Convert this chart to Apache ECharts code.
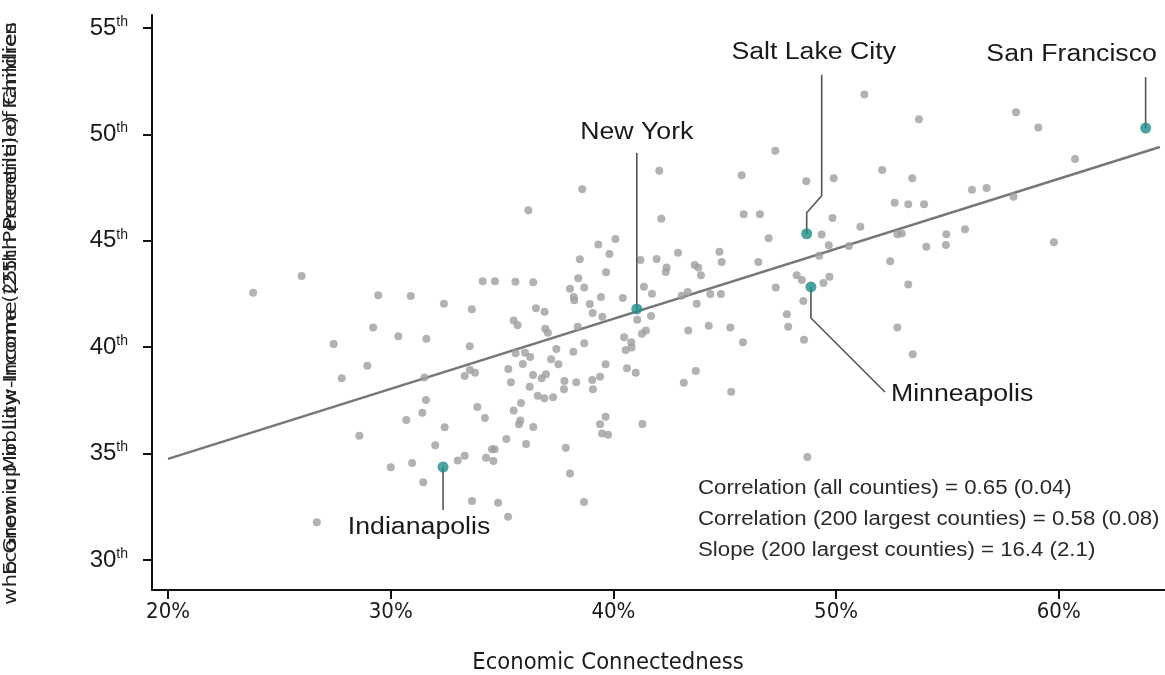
<!DOCTYPE html>
<html>
<head>
<meta charset="utf-8">
<script src="https://cdn.jsdelivr.net/npm/echarts@6/dist/echarts.min.js"></script>
<style>
  html, body { margin: 0; padding: 0; background: #fff; }
  #chart { width: 1165px; height: 675px; }
</style>
</head>
<body>
<div id="chart"></div>
<script>
// tick values
const xTicks = [20, 30, 40, 50, 60];
const yTicks = [30, 35, 40, 45, 50, 55];

// counties (economic connectedness %, income percentile)
const countyX = [
  26.00, 23.82, 29.44, 30.90, 32.39, 33.64, 34.13, 34.68, 29.21, 30.34,
  31.60, 33.55, 27.44, 28.95, 27.80, 31.51, 33.32, 33.79, 33.56, 31.58,
  31.42, 30.70, 33.89, 34.23, 32.42, 28.59, 32.00, 34.55, 34.67, 34.28,
  34.61, 33.32, 33.01, 30.96, 30.00, 31.46, 33.65, 34.82, 26.68, 42.06,
  38.60, 36.18, 42.15, 45.76, 48.66, 47.27, 45.85, 46.58, 46.97, 40.09,
  39.32, 38.49, 39.82, 39.67, 38.42, 41.21, 41.94, 42.90, 42.39, 42.35,
  43.65, 43.81, 43.93, 44.76, 44.86, 46.51, 35.60, 36.40, 38.05, 38.22,
  38.24, 38.69, 39.44, 38.94, 40.42, 41.37, 41.73, 39.07, 39.50, 36.52,
  36.91, 35.52, 35.70, 36.94, 37.06, 38.40, 41.07, 41.69, 43.07, 43.34,
  43.74, 44.35, 44.83, 47.29, 48.23, 48.46, 48.53, 47.79, 47.85, 48.56,
  45.82, 45.25, 44.28, 43.36, 41.46, 41.28, 40.48, 40.80, 40.82, 40.55,
  38.69, 38.20, 37.44, 35.61, 36.03, 36.26, 37.20, 37.53, 35.93, 35.28,
  39.65, 40.61, 41.00, 43.70, 43.16, 45.29, 36.39, 36.78, 36.97, 35.40,
  36.24, 37.80, 37.78, 38.33, 39.05, 39.40, 39.08, 36.60, 36.90, 37.29,
  35.85, 35.52, 35.82, 35.76, 36.40, 39.65, 39.40, 39.49, 39.76, 41.30,
  35.19, 36.08, 37.86, 38.05, 48.71, 35.27, 38.68, 51.27, 53.72, 58.08,
  59.08, 60.73, 49.89, 52.07, 53.42, 52.63, 53.24, 53.95, 56.10, 56.76,
  49.84, 51.09, 49.35, 49.67, 50.57, 49.24, 52.75, 52.95, 54.95, 54.93,
  54.05, 55.79, 57.97, 59.78, 52.43, 53.24, 49.43, 49.70, 52.75, 53.44
];
const countyY = [
  43.35, 42.56, 42.44, 42.41, 42.04, 41.78, 43.10, 43.10, 40.92, 40.51,
  40.40, 40.04, 40.15, 39.13, 38.54, 38.57, 38.65, 38.80, 38.93, 37.52,
  36.92, 36.58, 37.19, 36.67, 36.24, 35.84, 35.39, 35.20, 35.20, 34.81,
  34.65, 34.90, 34.67, 34.56, 34.36, 33.65, 32.77, 32.69, 31.77, 48.29,
  47.42, 46.43, 46.04, 48.08, 47.80, 49.23, 46.25, 46.25, 45.12, 45.08,
  44.82, 44.13, 44.38, 43.52, 43.24, 44.10, 44.14, 44.44, 43.75, 43.53,
  43.86, 43.75, 43.38, 44.49, 44.00, 44.00, 43.08, 43.05, 42.75, 42.36,
  42.20, 42.81, 42.36, 42.03, 42.31, 42.84, 42.51, 41.61, 41.43, 41.83,
  41.67, 41.26, 41.03, 40.87, 40.68, 40.96, 41.29, 41.47, 42.42, 42.59,
  42.04, 42.50, 42.50, 42.81, 43.38, 43.16, 42.17, 41.55, 40.96, 40.35,
  40.23, 40.92, 41.01, 40.79, 40.79, 40.63, 40.47, 40.23, 39.98, 39.87,
  40.18, 39.79, 39.92, 39.71, 39.74, 39.54, 39.43, 39.20, 39.21, 38.98,
  39.20, 39.01, 38.80, 38.88, 38.33, 37.91, 38.69, 38.54, 38.73, 38.35,
  38.14, 38.41, 38.02, 38.35, 38.46, 38.61, 38.02, 37.72, 37.60, 37.65,
  37.38, 37.02, 36.55, 36.38, 36.25, 36.73, 36.38, 35.95, 35.89, 36.39,
  35.69, 35.45, 35.28, 34.07, 34.84, 32.03, 32.73, 51.88, 50.71, 51.04,
  50.32, 48.84, 47.94, 48.33, 47.94, 46.79, 46.72, 46.72, 47.40, 47.48,
  46.07, 45.66, 45.29, 44.79, 44.76, 44.30, 45.31, 45.34, 45.31, 44.80,
  44.72, 45.54, 47.07, 44.93, 44.04, 42.94, 43.02, 43.31, 40.92, 39.67
];

// highlighted cities
const cityNames = ['Indianapolis', 'New York', 'Salt Lake City', 'Minneapolis', 'San Francisco'];
const cityX = [32.35, 41.05, 48.68, 48.87, 63.90];
const cityY = [34.37, 41.80, 45.33, 42.83, 50.30];

// fitted line ends
const fitX = [20, 64.54];
const fitY = [34.75, 49.41];

const statLines = [
  'Correlation (all counties) = 0.65 (0.04)',
  'Correlation (200 largest counties) = 0.58 (0.08)',
  'Slope (200 largest counties) = 16.4 (2.1)'
];
const xTitle = 'Economic Connectedness';
const yTitleA = 'Economic Mobility: Income (25th Percentile) of Children';
const yTitleB = 'who Grew up in Low-Income (25th Percentile) Families';

// leader line shapes, pixel offsets from each city point
const leaders = [
  { path: [[0, 0], [0, 43]], label: [-24, 61], align: 'center' },
  { path: [[0, 0], [0, -156]], label: [0, -176], align: 'center' },
  { path: [[0, 0], [0, -21], [15, -38], [15, -159]], label: [7, -181], align: 'center' },
  { path: [[0, 0], [0, 31], [74, 105]], label: [80, 108], align: 'left' },
  { path: [[0, 0], [0, -51]], label: [-74, -73], align: 'center' }
];

const chart = echarts.init(document.getElementById('chart'));
const axisColor = '#111';

chart.setOption({
  animation: false,
  grid: { left: 152, right: 0, top: 15, bottom: 85, outerBoundsMode: 'none' },
  xAxis: {
    type: 'value', min: 19.28, max: 64.77,
    splitLine: { show: false },
    axisLine: { lineStyle: { color: axisColor, width: 2 } },
    axisTick: { customValues: xTicks, length: 9, lineStyle: { color: axisColor, width: 2 } },
    axisLabel: {
      customValues: xTicks, margin: 11, formatter: v => v + '%',
      fontFamily: 'DejaVu Sans Condensed', fontSize: 22, color: '#1a1a1a'
    }
  },
  yAxis: {
    type: 'value', min: 28.59, max: 55.61,
    splitLine: { show: false },
    axisLine: { show: true, lineStyle: { color: axisColor, width: 2 } },
    axisTick: { show: true, customValues: yTicks, length: 9, lineStyle: { color: axisColor, width: 2 } },
    axisLabel: {
      customValues: yTicks, margin: 24,
      formatter: v => '{n|' + v + '}{s|th}',
      rich: {
        n: { fontFamily: 'Liberation Sans', fontSize: 24, lineHeight: 26, color: '#1a1a1a' },
        s: { fontFamily: 'Liberation Sans', fontSize: 14, lineHeight: 14, verticalAlign: 'top', color: '#1a1a1a' }
      }
    }
  },
  series: [
    {
      type: 'line', data: fitX.map((x, i) => [x, fitY[i]]),
      symbol: 'none', z: 1,
      lineStyle: { color: '#777', width: 2.5 }
    },
    {
      type: 'scatter', data: countyX.map((x, i) => [x, countyY[i]]),
      symbolSize: 8, z: 2,
      itemStyle: { color: '#9f9f9f' }
    },
    {
      type: 'scatter', data: cityX.map((x, i) => [x, cityY[i]]),
      symbolSize: 11, z: 4,
      itemStyle: { color: '#1c8c88' }
    }
  ]
});

// text width helper for stretching the y title
const ctx = document.createElement('canvas').getContext('2d');
function textWidth(t, font) { ctx.font = font; return ctx.measureText(t).width; }

const yFont = '18px "DejaVu Sans Condensed"';
const graphics = [];

cityNames.forEach((name, i) => {
  const p = chart.convertToPixel({ gridIndex: 0 }, [cityX[i], cityY[i]]);
  const l = leaders[i];
  graphics.push({
    type: 'polyline', z: 3,
    shape: { points: l.path.map(d => [p[0] + d[0], p[1] + d[1]]) },
    style: { stroke: '#555', lineWidth: 1.6, fill: null }
  });
  graphics.push({
    type: 'text', z: 5, x: p[0] + l.label[0], y: p[1] + l.label[1], scaleX: 1.16,
    style: {
      text: name, font: '23px "Liberation Sans"', fill: '#1a1a1a',
      align: l.align, verticalAlign: 'middle'
    }
  });
});

statLines.forEach((t, i) => {
  graphics.push({
    type: 'text', z: 5, x: 698, y: 489 + i * 31, scaleX: 1.14,
    style: { text: t, font: '19.5px "Liberation Sans"', fill: '#2a2a2a', align: 'left', verticalAlign: 'middle' }
  });
});

graphics.push({
  type: 'text', z: 5, x: 608, y: 663,
  style: { text: xTitle, font: '23.5px "DejaVu Sans Condensed"', fill: '#1a1a1a', align: 'center', verticalAlign: 'middle' }
});

[[yTitleA, 575, 553], [yTitleB, 605, 583]].forEach(([t, start, len]) => {
  graphics.push({
    type: 'text', z: 5, x: 11, y: start, rotation: Math.PI / 2,
    scaleX: len / textWidth(t, yFont),
    style: { text: t, font: yFont, fill: '#222', align: 'left', verticalAlign: 'middle' }
  });
});

chart.setOption({ graphic: graphics });
</script>
</body>
</html>
